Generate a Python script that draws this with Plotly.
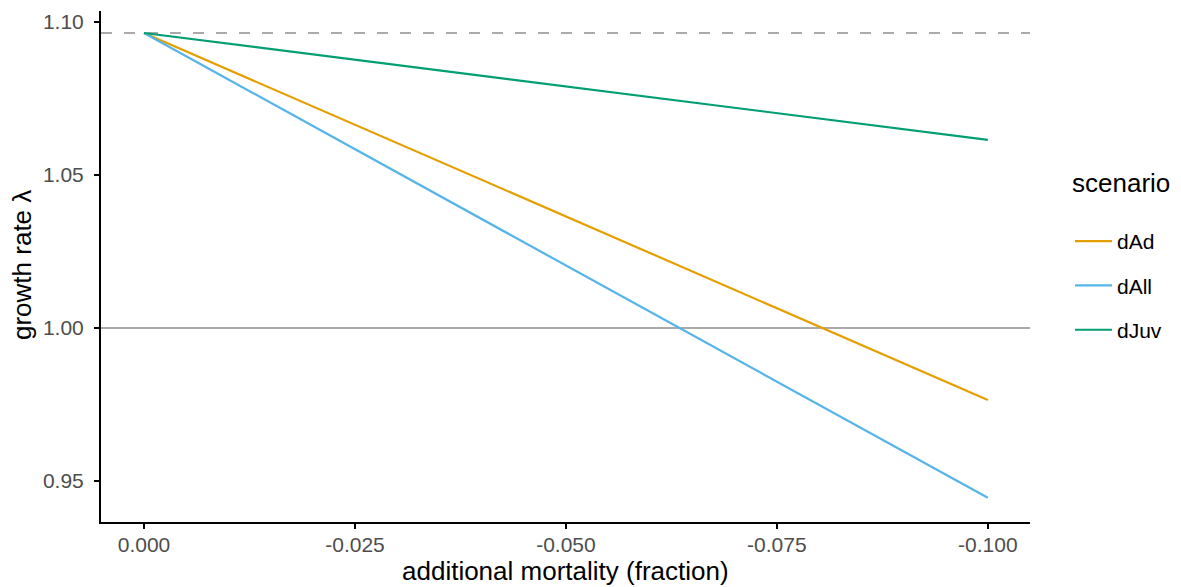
import plotly.graph_objects as go

mortality = [0.0, -0.1]
scenarios = ["dAd", "dAll", "dJuv"]
lam_dAd = [1.0964, 0.9765]
lam_dAll = [1.0964, 0.9445]
lam_dJuv = [1.0964, 1.0615]
colors = {"dAd": "#E69F00", "dAll": "#56B4E9", "dJuv": "#009E73"}
baseline = 1.0964
threshold = 1.0
x_ticks = [0.0, -0.025, -0.05, -0.075, -0.1]
x_ticklabels = ["0.000", "-0.025", "-0.050", "-0.075", "-0.100"]
y_ticks = [0.95, 1.0, 1.05, 1.1]
y_ticklabels = ["0.95", "1.00", "1.05", "1.10"]

series = {"dAd": lam_dAd, "dAll": lam_dAll, "dJuv": lam_dJuv}

FONT = "Liberation Sans, Arial, sans-serif"
L, R, T, B = 101, 151, 11, 65
PW, PH = 1181 - L - R, 587 - T - B

fig = go.Figure()

fig.add_hline(y=baseline, line=dict(color="#AAAAAA", width=2, dash="11px,12px"), layer="below")
fig.add_hline(y=threshold, line=dict(color="#AAAAAA", width=2), layer="below")

for s in scenarios:
    fig.add_trace(go.Scatter(
        x=mortality, y=series[s], mode="lines", name=s,
        line=dict(color=colors[s], width=2.2),
        legendgroup=s,
    ))

# legend title
fig.add_annotation(
    text="scenario", xref="paper", yref="paper",
    x=1.0 + 40 / PW, y=(587 - B - 183) / PH, xanchor="left", yanchor="middle",
    showarrow=False, font=dict(size=26, color="black"),
)
# axis titles
fig.add_annotation(
    text="additional mortality (fraction)", xref="paper", yref="paper",
    x=0.5, y=(587 - B - 571) / PH, xanchor="center", yanchor="middle",
    showarrow=False, font=dict(size=26, color="black"),
)
fig.add_annotation(
    text="growth rate λ", xref="paper", yref="paper",
    x=(22 - L) / PW, y=(587 - B - 265) / PH, xanchor="center", yanchor="middle",
    textangle=-90, showarrow=False, font=dict(size=26, color="black"),
)

fig.update_layout(
    width=1181, height=587,
    margin=dict(l=L, r=R, t=T, b=B),
    paper_bgcolor="white", plot_bgcolor="white",
    font=dict(family=FONT, color="black"),
    showlegend=True,
    legend=dict(
        font=dict(size=21, color="black"),
        x=1.0 + 40 / PW, xanchor="left", xref="paper",
        y=(587 - B - 285.5) / PH, yanchor="middle",
        itemwidth=37,
        tracegroupgap=14,
        bgcolor="rgba(0,0,0,0)",
    ),
)

fig.update_xaxes(
    range=[0.0051, -0.105],
    tickvals=x_ticks, ticktext=x_ticklabels,
    showgrid=False, zeroline=False, automargin=False,
    showline=True, linecolor="black", linewidth=2,
    ticks="outside", ticklen=5, tickwidth=2, tickcolor="black",
    ticklabelstandoff=-2,
    tickfont=dict(size=21, color="#4D4D4D"),
)
fig.update_yaxes(
    range=[0.9366, 1.1036],
    tickvals=y_ticks, ticktext=y_ticklabels,
    showgrid=False, zeroline=False, automargin=False,
    showline=True, linecolor="black", linewidth=2,
    ticks="outside", ticklen=5, tickwidth=2, tickcolor="black",
    ticklabelstandoff=6,
    tickfont=dict(size=21, color="#4D4D4D"),
)

fig.write_html("out.html")
